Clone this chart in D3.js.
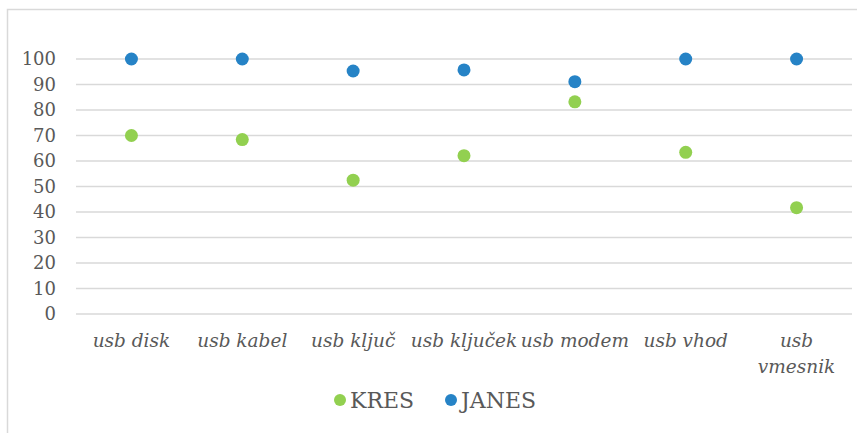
<!DOCTYPE html>
<html>
<head>
<meta charset="utf-8">
<script src="https://cdn.jsdelivr.net/npm/d3@7"></script>
<style>
	body { margin: 0; background: #fff; }
	svg text { font-family: "DejaVu Serif", "Liberation Serif", serif; fill: #595959; }
</style>
</head>
<body>
<div id="chart"></div>
<script>
// Chart data
//---------------------------------------------------------------------------
var categories = ["usb disk", "usb kabel", "usb ključ", "usb ključek", "usb modem", "usb vhod", "usb vmesnik"];
var kres = [70, 68.4, 52.5, 62.1, 83.2, 63.4, 41.7];
var janes = [100, 100, 95.3, 95.7, 91.1, 100, 100];
var yTicks = [0, 10, 20, 30, 40, 50, 60, 70, 80, 90, 100];
var seriesNames = ["KRES", "JANES"];
var seriesColors = ["#92d050", "#2683c6"];

// Canvas
//---------------------------------------------------------------------------
var width = 857, height = 433;
var margin = {top: 59, right: 5, bottom: 119, left: 76}; // plot box 76..852, 59..314

var svg = d3.select("#chart").append("svg")
	.attr("width", width)
	.attr("height", height);

// chart frame (runs off right and bottom edge like the original)
svg.append("rect")
	.attr("x", 7.5).attr("y", 9.5)
	.attr("width", 860).attr("height", 430)
	.attr("fill", "none")
	.attr("stroke", "#d9d9d9")
	.attr("stroke-width", 1.5);

var x = d3.scaleBand()
	.domain(categories)
	.range([margin.left, width - margin.right]);
var y = d3.scaleLinear()
	.domain([0, 100])
	.range([height - margin.bottom, margin.top]);

// gridlines
svg.append("g")
	.selectAll("line")
	.data(yTicks).enter()
	.append("line")
	.attr("x1", margin.left)
	.attr("x2", width - margin.right)
	.attr("y1", function(d) { return y(d); })
	.attr("y2", function(d) { return y(d); })
	.attr("stroke", "#d9d9d9")
	.attr("stroke-width", 1.5);

// y axis labels
var yAxis = svg.append("g")
	.attr("transform", "translate(" + (margin.left - 20) + ",0)")
	.call(d3.axisLeft(y).tickValues(yTicks).tickSize(0).tickPadding(0));
yAxis.select(".domain").remove();
yAxis.selectAll("text")
	.attr("font-size", "18px")
	.attr("font-family", null)
	.attr("fill", null);

// x axis labels, wrapped when too wide for the band
var xAxis = svg.append("g")
	.attr("transform", "translate(0," + (height - margin.bottom) + ")")
	.call(d3.axisBottom(x).tickSize(0).tickPadding(0));
xAxis.select(".domain").remove();
xAxis.selectAll("text")
	.attr("font-size", "18.5px")
	.attr("font-style", "italic")
	.attr("font-family", null)
	.attr("fill", null)
	.attr("dy", null)
	.attr("y", 33)
	.each(function(d) {
		var t = d3.select(this);
		if (this.getComputedTextLength() > x.bandwidth()) {
			var words = d.split(" ");
			t.text(null);
			words.forEach(function(w, i) {
				t.append("tspan")
					.attr("x", 0)
					.attr("y", 33 + i * 26)
					.text(w);
			});
		}
	});

// series dots
var series = [kres, janes];
series.forEach(function(vals, s) {
	svg.append("g")
		.selectAll("circle")
		.data(vals).enter()
		.append("circle")
		.attr("cx", function(d, i) { return x(categories[i]) + x.bandwidth() / 2; })
		.attr("cy", function(d) { return y(d); })
		.attr("r", 6.5)
		.attr("fill", seriesColors[s]);
});

// legend
var legendX = [340, 451];
var legend = svg.append("g")
	.selectAll("g")
	.data(seriesNames).enter()
	.append("g")
	.attr("transform", function(d, i) { return "translate(" + legendX[i] + ",400)"; });
legend.append("circle")
	.attr("r", 6)
	.attr("fill", function(d, i) { return seriesColors[i]; });
legend.append("text")
	.attr("x", 10)
	.attr("dy", "0.36em")
	.attr("font-size", "22px")
	.text(function(d) { return d; });
</script>
</body>
</html>
